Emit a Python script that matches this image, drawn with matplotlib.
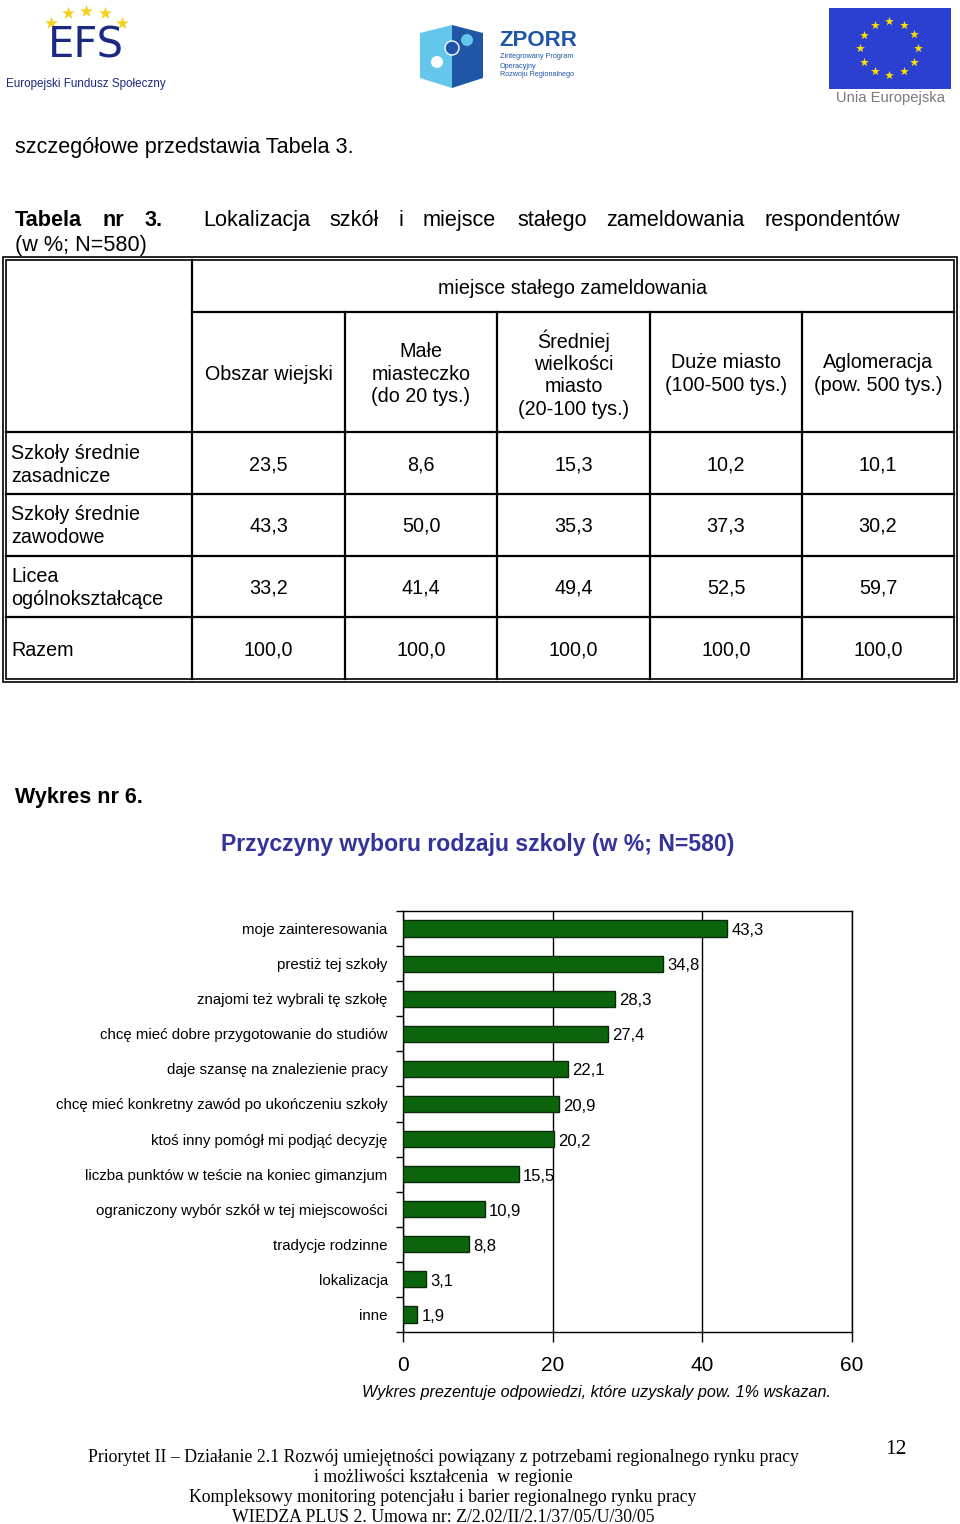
import numpy as np
import matplotlib
matplotlib.use("Agg")
import matplotlib.pyplot as plt
from matplotlib.patches import Rectangle, Polygon, Circle

# ---------------- data ----------------
categories = [
    "moje zainteresowania",
    "prestiż tej szkoły",
    "znajomi też wybrali tę szkołę",
    "chcę mieć dobre przygotowanie do studiów",
    "daje szansę na znalezienie pracy",
    "chcę mieć konkretny zawód po ukończeniu szkoły",
    "ktoś inny pomógł mi podjąć decyzję",
    "liczba punktów w teście na koniec gimanzjum",
    "ograniczony wybór szkół w tej miejscowości",
    "tradycje rodzinne",
    "lokalizacja",
    "inne",
]
values = [43.3, 34.8, 28.3, 27.4, 22.1, 20.9, 20.2, 15.5, 10.9, 8.8, 3.1, 1.9]
x_ticks = [0, 20, 40, 60]

table_columns = ["Obszar wiejski", "Małe\nmiasteczko\n(do 20 tys.)",
                 "Średniej\nwielkości\nmiasto\n(20-100 tys.)",
                 "Duże miasto\n(100-500 tys.)", "Aglomeracja\n(pow. 500 tys.)"]
table_rows = ["Szkoły średnie\nzasadnicze", "Szkoły średnie\nzawodowe",
              "Licea\nogólnokształcące", "Razem"]
row_zasadnicze = [23.5, 8.6, 15.3, 10.2, 10.1]
row_zawodowe = [43.3, 50.0, 35.3, 37.3, 30.2]
row_licea = [33.2, 41.4, 49.4, 52.5, 59.7]
row_razem = [100.0, 100.0, 100.0, 100.0, 100.0]

footer_lines = [
    "Priorytet II – Działanie 2.1 Rozwój umiejętności powiązany z potrzebami regionalnego rynku pracy",
    "i możliwości kształcenia  w regionie",
    "Kompleksowy monitoring potencjału i barier regionalnego rynku pracy",
    "WIEDZA PLUS 2. Umowa nr: Z/2.02/II/2.1/37/05/U/30/05",
]

def pl(v):
    return f"{v:.1f}".replace(".", ",")

plt.rcParams['font.family'] = ['Liberation Sans', 'DejaVu Sans']

W, H = 960, 1524
fig = plt.figure(figsize=(W / 100, H / 100), dpi=100)
fig.patch.set_facecolor("white")

# page axes in pixel coordinates
pg = fig.add_axes([0, 0, 1, 1])
pg.set_xlim(0, W)
pg.set_ylim(H, 0)
pg.axis("off")

# ---------------- logos ----------------
navy = "#1b2a80"
for (sx, sy) in [(51, 23), (68, 13), (86, 11), (105, 13), (122, 23)]:
    pg.scatter(sx, sy, marker="*", s=95, color="#f2d21b", zorder=3, linewidths=0)
pg.text(86, 46, "EFS", fontsize=30, color=navy, ha="center",
        va="center", family="DejaVu Sans", fontweight="normal")
pg.text(86, 84, "Europejski Fundusz Społeczny", fontsize=8.4, color=navy,
        ha="center", va="center")

pg.add_patch(Polygon([(420, 33), (452, 25), (452, 88), (420, 78)], closed=True,
                     facecolor="#63c6ea", edgecolor="none"))
pg.add_patch(Polygon([(452, 25), (483, 33), (483, 78), (452, 88)], closed=True,
                     facecolor="#1f56a8", edgecolor="none"))
pg.add_patch(Circle((452, 48), 7, facecolor="#1f56a8", edgecolor="white", lw=1))
pg.add_patch(Circle((437, 62), 6, facecolor="white", edgecolor="none"))
pg.add_patch(Circle((467, 40), 6, facecolor="#63c6ea", edgecolor="none"))
pg.text(499, 40, "ZPORR", fontsize=16, fontweight="bold", color="#1f56a8",
        ha="left", va="center")
for yy, s in zip([57, 66, 75], ["Zintegrowany Program", "Operacyjny", "Rozwoju Regionalnego"]):
    pg.text(500, yy, s, fontsize=5.2, color="#1f56a8", ha="left", va="center")

pg.add_patch(Rectangle((829, 8), 122, 81, facecolor="#2b3fd0", edgecolor="none"))
ang = np.deg2rad(np.arange(0, 360, 30))
pg.scatter(889 + 29 * np.cos(ang), 48 + 27 * np.sin(ang), marker="*", s=45,
           color="#ffe000", zorder=3, linewidths=0)
pg.text(891, 98, "Unia Europejska", fontsize=10.6, color="#7a7a7a", ha="center",
        va="center")

# ---------------- top text ----------------
pg.text(15, 147, "szczegółowe przedstawia Tabela 3.", fontsize=15.6, ha="left", va="center")
words = [("Tabela", 15, True), ("nr", 103, True), ("3.", 145, True),
         ("Lokalizacja", 203, False), ("szkół", 329, False), ("i", 398, False),
         ("miejsce", 423, False), ("stałego", 517, False),
         ("zameldowania", 606, False), ("respondentów", 764, False)]
for w, xx, b in words:
    pg.text(xx, 226, w, fontsize=15.6, ha="left", va="baseline",
            fontweight="bold" if b else "normal")
pg.text(15, 246, "(w %; N=580)", fontsize=15.6, ha="left", va="center")

# ---------------- table ----------------
lw_t = 1.6
tfs = 14.2
for off in (0, 3):
    pg.add_patch(Rectangle((3 + off, 257 + off), 954 - 2 * off, 425 - 2 * off,
                           fill=False, edgecolor="black", lw=1.2))
col_x = [6, 192, 345, 497, 650, 802, 954]
pg.plot([192, 954], [312, 312], color="black", lw=lw_t)
pg.plot([192, 192], [260, 679], color="black", lw=lw_t)
for cx in col_x[2:-1]:
    pg.plot([cx, cx], [312, 679], color="black", lw=lw_t)
for ry in [432, 494, 556, 617]:
    pg.plot([6, 954], [ry, ry], color="black", lw=lw_t)

pg.text(573, 288, "miejsce stałego zameldowania", fontsize=tfs, ha="center", va="center")
col_centers = [(col_x[i + 1] + col_x[i + 2]) / 2 for i in range(5)]
for cc, lab in zip(col_centers, table_columns):
    pg.text(cc, 374, lab, fontsize=tfs, ha="center", va="center", linespacing=1.22)
row_centers = [465, 526, 588, 650]
for rc, lab, vals in zip(row_centers, table_rows,
                         [row_zasadnicze, row_zawodowe, row_licea, row_razem]):
    pg.text(11, rc, lab, fontsize=tfs, ha="left", va="center", linespacing=1.22)
    for cc, v in zip(col_centers, vals):
        pg.text(cc, rc, pl(v), fontsize=tfs, ha="center", va="center")

# ---------------- chart texts ----------------
pg.text(15, 797, "Wykres nr 6.", fontsize=15.5, fontweight="bold", ha="left", va="center")
pg.text(478, 844, "Przyczyny wyboru rodzaju szkoly (w %; N=580)", fontsize=16.6,
        fontweight="bold", color="#33339a", ha="center", va="center")
pg.text(597, 1393, "Wykres prezentuje odpowiedzi, które uzyskaly pow. 1% wskazan.",
        fontsize=11.6, style="italic", ha="center", va="center")

# ---------------- footer ----------------
for yy, s in zip([1458, 1478, 1498, 1518], footer_lines):
    pg.text(443, yy, s, fontsize=12.8, family="Liberation Serif", ha="center", va="center")
pg.text(896, 1450, "12", fontsize=15.5, family="Liberation Serif", ha="center", va="center")

# ---------------- bar chart ----------------
left, right, top, bottom = 403, 852, 911, 1332
ax = fig.add_axes([left / W, 1 - bottom / H, (right - left) / W, (bottom - top) / H])
ax.set_facecolor("none")
y = np.arange(len(categories))
ax.barh(y, values, height=0.46, color="#0c650c", edgecolor="#0a2a0a",
        linewidth=1.0, zorder=3)
ax.set_xlim(0, 60)
ax.set_ylim(len(categories) - 0.5, -0.5)
ax.set_xticks(x_ticks)
ax.set_xticklabels([str(t) for t in x_ticks], fontsize=15)
ax.tick_params(axis="x", direction="out", length=7, width=1, pad=10)
ax.set_yticks(y)
ax.set_yticklabels(categories, fontsize=10.8)
ax.tick_params(axis="y", which="major", length=0, pad=11)
ax.set_yticks(np.arange(len(categories) + 1) - 0.5, minor=True)
ax.tick_params(axis="y", which="minor", direction="out", length=5, width=1)
ax.grid(axis="x", color="black", lw=1, zorder=1)
for sp in ax.spines.values():
    sp.set_color("black")
    sp.set_linewidth(1)
for yi, v in zip(y, values):
    ax.annotate(pl(v), (v, yi), xytext=(3, -1.5), textcoords="offset points",
                fontsize=12, ha="left", va="center", zorder=4)

fig.savefig("out.png", dpi=100, facecolor="white")
